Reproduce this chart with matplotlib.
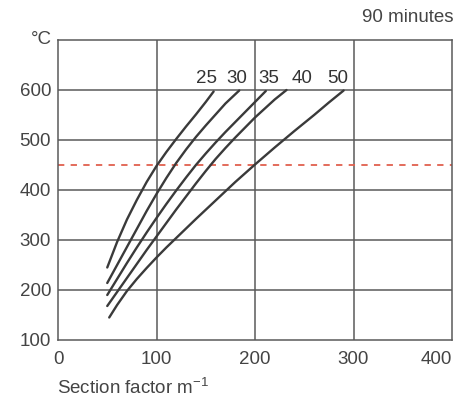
import numpy as np
import matplotlib.pyplot as plt

# ---- data (section factor m^-1 -> steel temperature degC) ----
x_25 = [50, 60, 70, 80, 90, 100, 110, 120, 130, 140, 150, 158]
y_25 = [245, 296, 341, 380, 416, 448, 476, 502, 527, 551, 576, 597]

x_30 = [50, 60, 70, 80, 90, 100, 110, 120, 130, 140, 150, 160, 170, 184]
y_30 = [214, 250, 286, 322, 358, 392, 424, 454, 481, 506, 529, 551, 573, 599]

x_35 = [50, 60, 70, 80, 90, 100, 110, 120, 130, 140, 150, 160, 170, 180, 190, 200, 211]
y_35 = [190, 222, 254, 285, 315, 344, 372, 399, 425, 450, 473, 495, 516, 536, 556, 576, 598]

x_40 = [50, 60, 70, 80, 90, 100, 110, 120, 130, 140, 150, 160, 170, 180, 190, 200, 210, 220, 232]
y_40 = [168, 196, 224, 252, 280, 307, 334, 361, 387, 413, 438, 462, 484, 505, 525, 545, 563, 581, 600]

x_50 = [52, 60, 70, 80, 90, 100, 110, 120, 140, 160, 180, 200, 220, 240, 260, 275, 290]
y_50 = [145, 170, 198, 222, 244, 265, 285, 304, 342, 379, 416, 451, 485, 518, 550, 575, 599]

curve_labels = ["25", "30", "35", "40", "50"]
label_x = [151, 182, 214, 248, 284]
critical_temp = 450

x_ticks = [0, 100, 200, 300, 400]
y_ticks = [100, 200, 300, 400, 500, 600]

plt.rcParams['font.family'] = ['Liberation Sans', 'DejaVu Sans']
TXT = '#444444'
FS = 13.5

fig = plt.figure(figsize=(4.54, 3.98), dpi=100)
ax = fig.add_axes([58 / 454, 58 / 398, 394 / 454, 300 / 398])

ax.set_xlim(0, 400)
ax.set_ylim(100, 700)

# сетка
for xv in x_ticks[1:-1]:
    ax.axvline(xv, color='#5a5a5a', lw=1.1, zorder=1)
for yv in y_ticks[1:]:
    ax.axhline(yv, color='#5a5a5a', lw=1.1, zorder=1)
for s in ax.spines.values():
    s.set_color('#5a5a5a')
    s.set_linewidth(1.1)

# критическая температура
ax.axhline(critical_temp, color='#e0604e', lw=1.3, ls=(0, (3.5, 3.5)), zorder=2)

for xs, ys in [(x_25, y_25), (x_30, y_30), (x_35, y_35), (x_40, y_40), (x_50, y_50)]:
    ax.plot(xs, ys, color='#3a3a3a', lw=1.7, zorder=3,
            solid_capstyle='round', solid_joinstyle='round')

for lab, lx in zip(curve_labels, label_x):
    ax.text(lx, 606, lab, ha='center', va='bottom', fontsize=FS, color='#333333')

ax.set_xticks(x_ticks)
ax.set_yticks(y_ticks)
ax.tick_params(length=0, labelsize=FS, labelcolor=TXT)
ax.tick_params(axis='x', pad=8)
ax.tick_params(axis='y', pad=5)
ax.get_xticklabels()[-1].set_ha('right')

fig.text(52 / 454, 1 - 40 / 398, "°C", ha='right', va='center', fontsize=FS, color=TXT)
fig.text(453 / 454, 1 - 17 / 398, "90 minutes", ha='right', va='center', fontsize=FS, color=TXT)
fig.text(57 / 454, 1 - 388 / 398, "Section factor m$^{\\mathregular{-1}}$", ha='left', va='center',
         fontsize=FS, color=TXT)

fig.savefig('out.png', dpi=100)
